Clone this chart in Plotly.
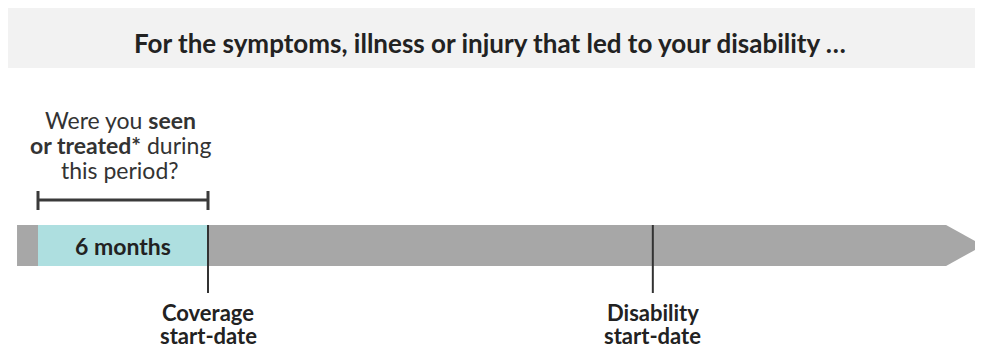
import plotly.graph_objects as go

# ---- data (timeline in months, coverage start = 0) ----
title_text = "For the symptoms, illness or injury that led to your disability …"
lookback_months = 6
lookback_label = "6 months"
question_lines = ["Were you <b>seen</b>", "<b>or treated*</b> during", "this period?"]
event_labels = [["Coverage", "start-date"], ["Disability", "start-date"]]
event_months = [0, 15.7]
timeline_start = -6.74
timeline_body_end = 26.05
timeline_tip = 27.35

# ---- styling ----
GRAY = "#a7a7a7"
TEAL = "#aedfe0"
DARK = "#333333"
FONT = "Lato"

# page offset (default body margin of the html page)
OFF = 8
W, H = 983, 350

Y_TOP, Y_BOT = 225, 266
Y_MID = (Y_TOP + Y_BOT) / 2

fig = go.Figure()

fig.add_trace(go.Scatter(
    x=[timeline_start, timeline_body_end, timeline_tip, timeline_body_end, timeline_start, timeline_start],
    y=[Y_TOP, Y_TOP, Y_MID, Y_BOT, Y_BOT, Y_TOP],
    fill="toself", fillcolor=GRAY, mode="lines", line=dict(width=0), hoverinfo="skip",
))
lb_start = event_months[0] - lookback_months
fig.add_trace(go.Scatter(
    x=[lb_start, event_months[0], event_months[0], lb_start, lb_start],
    y=[Y_TOP, Y_TOP, Y_BOT, Y_BOT, Y_TOP],
    fill="toself", fillcolor=TEAL, mode="lines", line=dict(width=0), hoverinfo="skip",
))

shapes = []
shapes.append(dict(type="rect", xref="paper", yref="y", x0=0, x1=1, y0=8, y1=68,
                   fillcolor="#f2f2f2", line=dict(width=0), layer="below"))
for m in event_months:
    shapes.append(dict(type="line", xref="x", yref="y", x0=m, x1=m, y0=Y_TOP, y1=293,
                       line=dict(color=DARK, width=2)))
BR_Y = 200
shapes.append(dict(type="line", x0=lb_start, x1=event_months[0], y0=BR_Y, y1=BR_Y,
                   xref="x", yref="y", line=dict(color="#3a3a3a", width=3)))
for m in [lb_start, event_months[0]]:
    shapes.append(dict(type="line", x0=m, x1=m, y0=191, y1=210,
                       xref="x", yref="y", line=dict(color="#3a3a3a", width=3)))

px_per_month = 170 / lookback_months

annotations = []
annotations.append(dict(text=f"<b>{title_text}</b>", xref="x", yref="y",
                        x=(490 - 208) / px_per_month, y=43,
                        showarrow=False, font=dict(family=FONT, size=26, color="#222222")))
q_x = (lb_start + event_months[0]) / 2 - 0.1
for i, line in enumerate(question_lines):
    annotations.append(dict(text=line, xref="x", yref="y", x=q_x, y=120 + 25 * i,
                            showarrow=False, font=dict(family=FONT, size=23, color=DARK)))
annotations.append(dict(text=f"<b>{lookback_label}</b>", xref="x", yref="y",
                        x=(lb_start + event_months[0]) / 2, y=Y_MID, showarrow=False,
                        font=dict(family=FONT, size=23, color="#222222")))
for lab, m in zip(event_labels, event_months):
    for i, line in enumerate(lab):
        annotations.append(dict(text=f"<b>{line}</b>", xref="x", yref="y", x=m, y=312 + 23 * i,
                                showarrow=False, font=dict(family=FONT, size=22, color="#222222")))

fig.update_layout(
    width=W - OFF, height=H - OFF,
    margin=dict(l=0, r=0, t=0, b=0, pad=0),
    paper_bgcolor="white", plot_bgcolor="white",
    showlegend=False,
    xaxis=dict(range=[(OFF - 208) / px_per_month, (W - 208) / px_per_month], visible=False, fixedrange=True),
    yaxis=dict(range=[H, OFF], visible=False, fixedrange=True),
    shapes=shapes, annotations=annotations,
)

fig.write_html("out.html", config={"displayModeBar": False})
